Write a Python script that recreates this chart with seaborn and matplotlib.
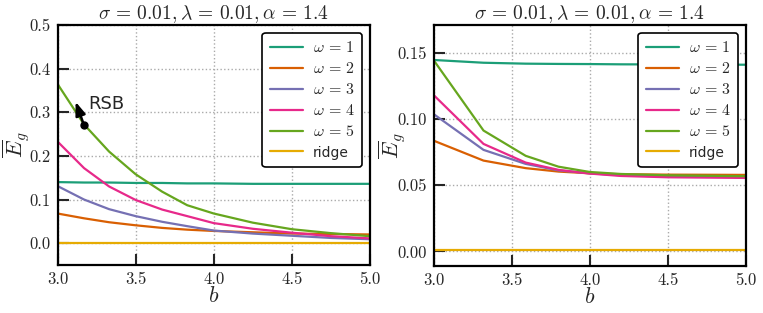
import pandas as pd
import seaborn as sns
import matplotlib.pyplot as plt

# values
b_left = [3.0, 3.17, 3.33, 3.5, 3.67, 3.83, 4.0, 4.25, 4.5, 4.75, 5.0]
left_w1 = [0.140, 0.139, 0.139, 0.138, 0.138, 0.137, 0.137, 0.136, 0.136, 0.136, 0.136]
left_w2 = [0.068, 0.057, 0.048, 0.041, 0.035, 0.031, 0.028, 0.025, 0.022, 0.021, 0.020]
left_w3 = [0.131, 0.100, 0.078, 0.062, 0.049, 0.039, 0.029, 0.022, 0.017, 0.012, 0.009]
left_w4 = [0.233, 0.172, 0.130, 0.099, 0.077, 0.062, 0.046, 0.033, 0.024, 0.016, 0.011]
left_w5 = [0.365, 0.272, 0.210, 0.158, 0.118, 0.087, 0.068, 0.047, 0.032, 0.023, 0.016]
left_ridge = [0.001] * len(b_left)

b_right = [3.0, 3.32, 3.59, 3.8, 4.0, 4.2, 4.5, 5.0]
right_w1 = [0.1446, 0.1425, 0.1418, 0.1416, 0.1415, 0.1413, 0.1412, 0.1410]
right_w2 = [0.0837, 0.0686, 0.0629, 0.0603, 0.0590, 0.0583, 0.0580, 0.0578]
right_w3 = [0.1038, 0.0767, 0.0661, 0.0612, 0.0590, 0.0575, 0.0566, 0.0562]
right_w4 = [0.1182, 0.0812, 0.0671, 0.0616, 0.0588, 0.0570, 0.0560, 0.0555]
right_w5 = [0.1446, 0.0913, 0.0722, 0.0640, 0.0600, 0.0585, 0.0575, 0.0568]
right_ridge = [0.001] * len(b_right)

labels = [r'$\omega\,=\,1$', r'$\omega\,=\,2$', r'$\omega\,=\,3$',
          r'$\omega\,=\,4$', r'$\omega\,=\,5$', 'ridge']
title = r'$\sigma\,=\,0.01, \lambda\,=\,0.01, \alpha\,=\,1.4$'


def to_long(b, series):
    frames = []
    for lab, vals in zip(labels, series):
        frames.append(pd.DataFrame({'b': b, 'E': vals, 'model': lab}))
    return pd.concat(frames, ignore_index=True)


df_left = to_long(b_left, [left_w1, left_w2, left_w3, left_w4, left_w5, left_ridge])
df_right = to_long(b_right, [right_w1, right_w2, right_w3, right_w4, right_w5, right_ridge])

sns.set_style('ticks')
plt.rcParams['font.family'] = ['cmr10']
plt.rcParams['mathtext.fontset'] = 'cm'
plt.rcParams['axes.formatter.use_mathtext'] = True
plt.rcParams['axes.unicode_minus'] = False

palette = sns.color_palette('Dark2', 6)

fig = plt.figure(figsize=(7.63, 3.13), dpi=100)
ax1 = fig.add_axes([57.5 / 763, 48 / 313, 312.5 / 763, 240 / 313])
ax2 = fig.add_axes([433.5 / 763, 47 / 313, 312.5 / 763, 241 / 313])

for ax, df, ylim, yticks in [
    (ax1, df_left, (-0.05, 0.5), [0.0, 0.1, 0.2, 0.3, 0.4, 0.5]),
    (ax2, df_right, (-0.011, 0.171), [0.0, 0.05, 0.1, 0.15]),
]:
    sns.lineplot(data=df, x='b', y='E', hue='model', palette=palette,
                 linewidth=1.6, ax=ax)
    ax.set_xlim(3.0, 5.0)
    ax.set_ylim(*ylim)
    ax.set_xticks([3.0, 3.5, 4.0, 4.5, 5.0])
    ax.set_yticks(yticks)
    ax.grid(True, linestyle=':', color='#aaaaaa', linewidth=1.0)
    ax.tick_params(direction='in', length=8, width=1.5, labelsize=12,
                   top=False, right=False, pad=5)
    for sp in ax.spines.values():
        sp.set_linewidth(1.6)
        sp.set_color('black')
    ax.set_xlabel(r'$b$', fontsize=16, labelpad=-1)
    ax.set_ylabel(r'$\overline{E}_g$', fontsize=16)
    ax.yaxis.set_label_coords(-0.08, 0.5)
    ax.set_title(title, fontsize=14, pad=3)
    leg = ax.legend(loc='upper right', fontsize=11.5, frameon=True,
                    fancybox=True, edgecolor='black', framealpha=1,
                    handlelength=2.1, handletextpad=0.6, borderpad=0.45,
                    labelspacing=0.38, borderaxespad=0.5)
    leg.get_frame().set_linewidth(1.2)
    for t in leg.get_texts():
        if t.get_text() == 'ridge':
            t.set_fontfamily('DejaVu Sans')
            t.set_fontsize(10)

ax1.set_yticklabels(['0.0', '0.1', '0.2', '0.3', '0.4', '0.5'])
ax2.set_yticklabels(['0.00', '0.05', '0.10', '0.15'])
for ax in (ax1, ax2):
    ax.set_xticklabels(['3.0', '3.5', '4.0', '4.5', '5.0'])

# RSB marker
ax1.plot([3.17], [0.27], 'o', color='black', markersize=5)
ax1.annotate('', xy=(3.11, 0.33), xytext=(3.17, 0.27),
             arrowprops=dict(arrowstyle='-|>,head_length=0.8,head_width=0.3',
                             color='black', lw=1.8))
ax1.text(3.2, 0.318, 'RSB', fontsize=13, family='DejaVu Sans', va='center')

fig.savefig('out.png', dpi=100)
